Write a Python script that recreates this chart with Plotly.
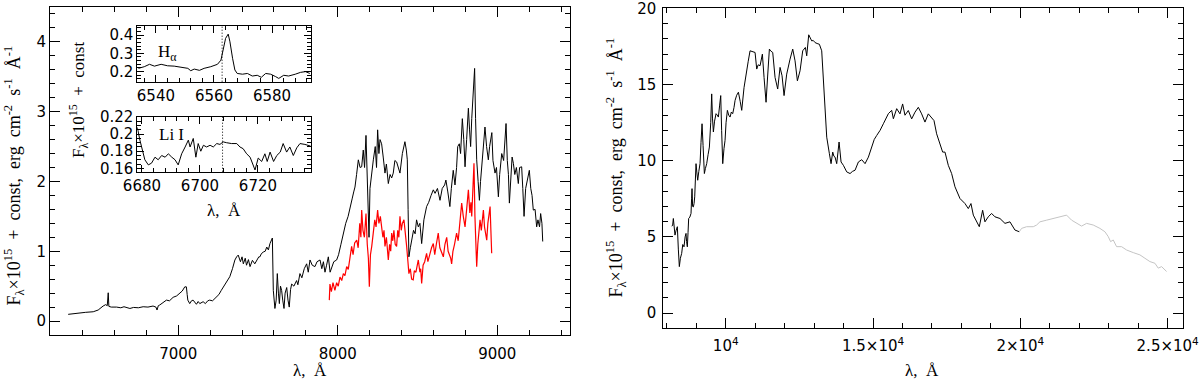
import plotly.graph_objects as go

# ---- main optical spectrum (left panel), black ----
opt_wl = [6310, 6340, 6384, 6420, 6467, 6498, 6529, 6545, 6555, 6561, 6565, 6580, 6613, 6640, 6660,
          6697, 6720, 6750, 6780, 6810, 6842, 6860, 6867, 6875, 6884, 6905, 6926, 6945, 6968, 6990,
          7010, 7025, 7041, 7051, 7056, 7060, 7072, 7083, 7093, 7104, 7114, 7125, 7135, 7156, 7170,
          7185, 7197, 7215, 7239, 7255, 7270, 7290, 7323, 7340, 7355, 7366, 7376, 7390, 7400, 7408,
          7420, 7428, 7440, 7450, 7465, 7480, 7491, 7505, 7512, 7520, 7533, 7545, 7555, 7565, 7575,
          7585, 7590, 7596, 7606, 7614, 7621, 7628, 7634, 7641, 7648, 7655, 7663, 7670, 7680, 7688,
          7696, 7704, 7711, 7725, 7742, 7750, 7763, 7775, 7790, 7805, 7815, 7826, 7840, 7857, 7870,
          7889, 7900, 7910, 7920, 7930, 7941, 7952, 7962, 7975, 7993, 8005, 8020, 8035, 8050, 8065,
          8077, 8090, 8100, 8108, 8118, 8129, 8140, 8150, 8160, 8168, 8177, 8185, 8192, 8196, 8202,
          8210, 8223, 8235, 8243, 8250, 8258, 8265, 8275, 8285, 8296, 8305, 8317, 8328, 8338, 8348,
          8358, 8369, 8380, 8390, 8405, 8415, 8421, 8430, 8436, 8441, 8446, 8455, 8463, 8475, 8485,
          8494, 8505, 8515, 8526, 8540, 8557, 8570, 8585, 8599, 8610, 8625, 8641, 8655, 8670, 8678,
          8690, 8703, 8712, 8724, 8735, 8745, 8752, 8762, 8770, 8781, 8790, 8798, 8808, 8819, 8826,
          8833, 8840, 8846, 8852, 8858, 8864, 8871, 8880, 8888, 8895, 8902, 8912, 8923, 8933, 8944,
          8952, 8959, 8966, 8973, 8986, 8995, 9007, 9015, 9028, 9040, 9048, 9055, 9063, 9070, 9076,
          9085, 9093, 9101, 9110, 9120, 9132, 9140, 9153, 9160, 9168, 9178, 9188, 9201, 9210, 9218,
          9226, 9237, 9247, 9255, 9265, 9272, 9280, 9285]
opt_flux = [0.096, 0.105, 0.12, 0.125, 0.133, 0.158, 0.215, 0.235, 0.22, 0.405, 0.21, 0.20, 0.20, 0.19, 0.205,
            0.18, 0.195, 0.19, 0.205, 0.20, 0.215, 0.20, 0.158, 0.22, 0.23, 0.26, 0.30, 0.29, 0.34, 0.36,
            0.405, 0.43, 0.49, 0.49, 0.38, 0.30, 0.25, 0.29, 0.30, 0.26, 0.24, 0.28, 0.25, 0.277, 0.25,
            0.29, 0.30, 0.29, 0.34, 0.38, 0.44, 0.52, 0.635, 0.75, 0.874, 0.92, 0.945, 0.85, 0.92, 0.82,
            0.90, 0.80, 0.88, 0.78, 0.87, 0.82, 0.875, 0.92, 0.92, 0.96, 0.99, 1.0, 1.06, 1.02, 1.11,
            1.16, 1.19, 0.44, 0.18, 0.30, 0.68, 0.40, 0.25, 0.50, 0.44, 0.30, 0.18, 0.40, 0.48, 0.30,
            0.20, 0.45, 0.53, 0.50, 0.58, 0.52, 0.68, 0.62, 0.75, 0.82, 0.70, 0.875, 0.80, 0.78, 0.85,
            0.875, 0.75, 0.85, 0.70, 0.80, 0.92, 0.70, 0.78, 0.85, 0.875, 0.95, 1.10, 1.26, 1.40, 1.50,
            1.64, 1.75, 1.85, 1.92, 2.10, 2.31, 2.20, 2.21, 2.45, 2.20, 2.66, 2.10, 1.60, 1.20, 1.90,
            2.10, 2.31, 2.50, 2.20, 2.74, 2.40, 2.60, 2.54, 2.35, 2.12, 2.25, 1.97, 2.10, 2.05, 2.12,
            2.30, 2.28, 2.20, 2.12, 2.40, 2.50, 2.57, 2.45, 2.31, 1.60, 0.92, 1.05, 1.16, 1.30, 1.25,
            1.45, 1.35, 1.40, 1.11, 1.45, 1.64, 1.70, 1.80, 1.88, 1.83, 1.90, 1.73, 1.90, 1.95, 2.02,
            1.85, 1.64, 1.90, 2.16, 1.95, 2.20, 2.50, 2.54, 2.40, 2.90, 2.60, 2.21, 2.60, 3.05, 2.75,
            2.50, 2.90, 3.21, 3.30, 3.62, 2.90, 2.31, 2.00, 1.73, 2.00, 2.21, 2.50, 2.78, 2.50, 2.31,
            2.50, 2.64, 2.70, 2.30, 2.12, 2.20, 1.78, 2.10, 2.40, 2.30, 2.60, 2.83, 2.30, 2.10, 1.69,
            2.00, 2.35, 2.26, 2.10, 2.20, 1.97, 2.20, 2.21, 1.90, 1.50, 1.90, 2.00, 2.16, 1.90, 1.80,
            1.59, 1.60, 1.35, 1.45, 1.35, 1.54, 1.40, 1.14]

# ---- second optical spectrum (red) ----
red_wl = [7947, 7951, 7960, 7970, 7982, 7993, 8003, 8014, 8025, 8035, 8045, 8056, 8066, 8077, 8087,
          8096, 8106, 8119, 8128, 8138, 8145, 8150, 8158, 8167, 8172, 8177, 8185, 8192, 8198, 8205,
          8213, 8222, 8232, 8240, 8250, 8258, 8267, 8275, 8283, 8290, 8296, 8305, 8310, 8317, 8325,
          8332, 8338, 8345, 8352, 8360, 8369, 8376, 8383, 8390, 8398, 8405, 8415, 8425, 8432, 8440,
          8446, 8455, 8463, 8473, 8480, 8490, 8498, 8505, 8515, 8520, 8526, 8535, 8545, 8557, 8565,
          8575, 8588, 8599, 8608, 8618, 8630, 8640, 8650, 8662, 8672, 8683, 8692, 8700, 8708, 8714,
          8722, 8732, 8745, 8755, 8765, 8777, 8787, 8798, 8808, 8819, 8828, 8835, 8840, 8848, 8854,
          8860, 8866, 8871, 8878, 8885, 8892, 8900, 8906, 8913, 8920, 8927, 8934, 8941, 8948, 8955,
          8960, 8965]
red_flux = [0.30, 0.53, 0.42, 0.55, 0.44, 0.55, 0.50, 0.63, 0.58, 0.68, 0.65, 0.78, 0.74, 0.90, 1.07,
            0.95, 1.12, 1.16, 1.05, 1.40, 1.20, 1.59, 1.30, 1.20, 1.45, 1.54, 1.10, 0.90, 0.49, 0.95,
            1.07, 1.30, 1.45, 1.35, 1.59, 1.40, 1.50, 1.35, 1.20, 1.30, 1.07, 1.20, 1.00, 0.875, 1.10,
            1.00, 1.26, 1.15, 1.30, 1.10, 1.07, 1.30, 1.20, 1.50, 1.30, 1.40, 1.45, 1.25, 1.07, 0.85,
            0.68, 0.75, 0.60, 0.59, 0.72, 0.70, 0.82, 0.875, 0.70, 0.75, 0.54, 0.80, 0.85, 0.97, 0.85,
            0.95, 1.05, 1.11, 0.95, 1.10, 1.26, 1.05, 1.00, 0.92, 1.10, 1.20, 1.00, 0.95, 0.90, 0.82,
            1.00, 1.10, 1.26, 1.15, 1.40, 1.69, 1.50, 1.35, 1.60, 1.88, 1.55, 1.70, 1.50, 1.90, 2.26,
            1.50, 1.10, 0.78, 1.10, 1.30, 1.45, 1.30, 1.50, 1.59, 1.35, 1.25, 1.16, 1.40, 1.50, 1.64,
            1.30, 0.97]

# ---- H-alpha inset ----
ha_wl = [6534, 6536, 6537.8, 6539.5, 6541.8, 6544, 6546.3, 6548.6, 6551, 6552, 6553.2, 6555, 6556.6,
         6558.9, 6561.2, 6562.4, 6563.3, 6564, 6564.9, 6565.5, 6566.4, 6567.2, 6568, 6569.8, 6571.5,
         6573.2, 6574.9, 6576.3, 6577.8, 6579.5, 6581.2, 6582.3, 6584, 6585.7, 6588, 6589.8, 6591.5, 6593]
ha_flux = [0.218, 0.227, 0.24, 0.23, 0.24, 0.232, 0.23, 0.223, 0.218, 0.205, 0.214, 0.207, 0.218,
           0.227, 0.24, 0.263, 0.327, 0.382, 0.405, 0.363, 0.273, 0.209, 0.19, 0.186, 0.19,
           0.176, 0.18, 0.169, 0.19, 0.186, 0.173, 0.163, 0.18, 0.176, 0.186, 0.196, 0.2, 0.19]

# ---- Li I inset ----
li_wl = [6678.4, 6679.3, 6681, 6682.2, 6683.3, 6684.5, 6685.6, 6686.8, 6688, 6689.1, 6690.3, 6691.4,
         6692.5, 6693.7, 6694.9, 6696, 6696.6, 6697.7, 6698.6, 6699.4, 6700.3, 6701.2, 6702.3, 6703.5,
         6704.6, 6705.8, 6706.9, 6708, 6709.2, 6710.9, 6712.7, 6713.8, 6714.9, 6716.1, 6717.3, 6718.2,
         6719, 6720.1, 6721.3, 6722.4, 6723.2, 6724.2, 6725.4, 6726.5, 6727.7, 6728.7, 6729.9, 6731,
         6732.2, 6733.4, 6734.5, 6736.2, 6738.2]
li_flux = [0.208, 0.193, 0.17, 0.164, 0.166, 0.173, 0.17, 0.175, 0.173, 0.177, 0.173, 0.17,
           0.164, 0.177, 0.185, 0.193, 0.185, 0.195, 0.173, 0.189, 0.18, 0.187, 0.185, 0.187,
           0.185, 0.189, 0.188, 0.191, 0.19, 0.189, 0.189, 0.185, 0.183, 0.177, 0.173, 0.166,
           0.158, 0.172, 0.168, 0.177, 0.168, 0.179, 0.168, 0.175, 0.179, 0.189, 0.179, 0.185,
           0.175, 0.184, 0.189, 0.188, 0.186]

# ---- near-IR spectrum (right panel), black part ----
ir_wl = [8170, 8198, 8221, 8250, 8277, 8310, 8357, 8390, 8424, 8460, 8504, 8540, 8583, 8620, 8651,
         8670, 8696, 8720, 8741, 8780, 8821, 8840, 8855, 8875, 8900, 8925, 8946, 8970, 8991, 9020,
         9048, 9085, 9127, 9160, 9195, 9230, 9274, 9310, 9353, 9400, 9444, 9490, 9523, 9550, 9580,
         9620, 9670, 9710, 9750, 9790, 9829, 9860, 9897, 9940, 9976, 10010, 10055, 10100, 10146, 10190,
         10236, 10280, 10316, 10370, 10429, 10490, 10542, 10620, 10689, 10760, 10825, 10995, 11051, 11100, 11164,
         11243, 11300, 11368, 11420, 11481, 11530, 11594, 11673, 11763, 11843, 11911, 11979, 12069, 12182, 12273,
         12352, 12431, 12522, 12612, 12703, 12748, 12816, 12870, 12918, 12970, 13031, 13100, 13178, 13257, 13314,
         13371, 13427, 13518, 13574, 13631, 13670, 13710, 13766, 13846, 13914, 13993, 14106, 14219, 14300, 14389,
         14502, 14615, 14728, 14841, 14954, 15040, 15123, 15236, 15350, 15430, 15519, 15632, 15689, 15802, 15914,
         16004, 16083, 16196, 16310, 16423, 16536, 16649, 16762, 16875, 16988, 17068, 17158, 17271, 17362, 17441,
         17554, 17667, 17780, 17950, 18120, 18233, 18323, 18403, 18493, 18606, 18719, 18798, 18911, 19024, 19137,
         19307, 19477, 19646, 19816, 19963]
ir_flux = [5.7, 5.78, 6.21, 5.5, 5.12, 5.4, 5.67, 4.2, 3.05, 3.6, 3.92, 4.5, 4.35, 5.0, 5.23,
           4.7, 4.35, 5.3, 6.21, 6.3, 6.54, 7.5, 8.17, 7.0, 6.97, 7.2, 7.63, 8.8, 9.81, 9.2,
           8.72, 9.3, 9.81, 11.2, 12.43, 11.0, 9.16, 9.5, 9.81, 10.4, 10.9, 12.5, 14.39, 12.8, 11.89,
           12.6, 13.09, 13.0, 12.87, 13.6, 14.28, 12.0, 9.81, 10.8, 11.34, 12.5, 13.31, 13.0, 12.87, 13.2,
           13.09, 13.5, 13.96, 14.3, 14.5, 13.9, 13.31, 14.8, 15.8, 16.5, 17.22, 17.11, 16.02, 16.3, 16.24,
           17.0, 15.47, 13.84, 15.5, 17.33, 17.2, 17.11, 15.47, 14.71, 16.13, 15.58, 14.28, 15.69, 16.67, 17.33,
           16.56, 15.25, 15.91, 17.22, 17.44, 16.89, 18.27, 18.0, 17.87, 17.9, 17.76, 17.7, 17.65, 17.22, 15.47,
           13.31, 11.55, 10.46, 9.81, 10.57, 10.3, 10.24, 9.81, 11.23, 9.92, 9.7, 9.27, 9.16, 9.3, 9.38,
           9.92, 10.07, 9.81, 10.24, 10.9, 11.4, 11.66, 11.99, 12.43, 12.8, 13.09, 13.31, 12.76, 13.42, 13.08,
           13.73, 12.99, 13.3, 12.75, 13.19, 13.51, 13.08, 12.54, 13.08, 12.86, 12.64, 11.77, 11.12, 10.57, 10.57,
           9.7, 9.16, 8.29, 7.52, 7.19, 6.86, 7.19, 6.43, 6.1, 5.67, 6.75, 5.99, 6.32, 6.54, 6.32,
           6.21, 5.89, 5.99, 5.45, 5.34]

# ---- near-IR, grey part ----
k_wl = [19963, 20042, 20212, 20438, 20551, 20664, 20890, 21117, 21343, 21569, 21739, 21908, 22078, 22248,
        22474, 22700, 22870, 22983, 23062, 23153, 23266, 23435, 23605, 23831, 24058, 24227, 24397, 24567,
        24680, 24793, 24963]
k_flux = [5.34, 5.56, 5.67, 5.67, 5.78, 5.99, 6.1, 6.21, 6.28, 6.43, 6.1, 5.89, 5.71, 5.89,
          5.78, 5.56, 5.34, 5.02, 4.69, 4.8, 4.36, 4.36, 4.14, 3.97, 3.82, 3.6, 3.38, 3.27,
          2.95, 3.05, 2.73]

W, H = 1200, 382
NUM = "DejaVu Sans"
TXT = "Liberation Serif"
nb = "\u00a0"


def px(x):
    return x / W


def py(y):
    return (H - y) / H


def axis_style(dom, rng, major, minor, tlen=10, mlen=5, **kw):
    d = dict(domain=dom, range=rng, showline=True, linecolor="black", linewidth=1, mirror="allticks",
             ticks="inside", ticklen=tlen, tickcolor="black", tickwidth=1, showgrid=False, zeroline=False,
             automargin=False, ticklabeloverflow="allow",
             tickfont=dict(family=NUM, size=15, color="black"),
             minor=dict(ticks="inside", ticklen=mlen, tickcolor="black", tickwidth=1, dtick=minor,
                        tick0=0, showgrid=False))
    if major is not None:
        d.update(dtick=major, tick0=0)
    d.update(kw)
    return d


fig = go.Figure()
fig.add_trace(go.Scatter(x=opt_wl, y=opt_flux, mode="lines", line=dict(color="black", width=1),
                         xaxis="x", yaxis="y"))
fig.add_trace(go.Scatter(x=red_wl, y=red_flux, mode="lines", line=dict(color="#ff0000", width=1.2),
                         xaxis="x", yaxis="y"))
fig.add_trace(go.Scatter(x=ir_wl, y=ir_flux, mode="lines", line=dict(color="black", width=1),
                         xaxis="x2", yaxis="y2"))
fig.add_trace(go.Scatter(x=k_wl, y=k_flux, mode="lines", line=dict(color="#c4c4c4", width=1),
                         xaxis="x2", yaxis="y2"))
fig.add_trace(go.Scatter(x=ha_wl, y=ha_flux, mode="lines", line=dict(color="black", width=1),
                         xaxis="x3", yaxis="y3"))
fig.add_trace(go.Scatter(x=li_wl, y=li_flux, mode="lines", line=dict(color="black", width=1),
                         xaxis="x4", yaxis="y4"))

fig.update_layout(
    width=W, height=H, margin=dict(l=0, r=0, t=0, b=0, autoexpand=False),
    paper_bgcolor="white", plot_bgcolor="rgba(0,0,0,0)", showlegend=False,
    xaxis=axis_style([px(50), px(570)], [6196, 9456], 1000, 200, anchor="y", ticklabelstandoff=5),
    yaxis=axis_style([py(335), py(7)], [-0.2, 4.5], 1, 0.2, anchor="x"),
    xaxis2=axis_style([px(663.3), px(1182.7)], [7880, 25510], None, 1000, anchor="y2", ticklabelstandoff=4,
                      tickmode="array", tickvals=[10000, 15000, 20000, 25000],
                      ticktext=["10<sup>4</sup>", "1.5×10<sup>4</sup>", "2×10<sup>4</sup>", "2.5×10<sup>4</sup>"]),
    yaxis2=axis_style([py(328.3), py(8)], [-1, 20.03], 5, 1, anchor="x2", ticklabelstandoff=3),
    xaxis3=axis_style([px(137.3), px(310.7)], [6533.6, 6593.3], 20, 4, 7, 4, anchor="y3"),
    yaxis3=axis_style([py(81.7), py(25.7)], [0.145, 0.451], None, 0.02, 7, 4, anchor="x3",
                      tickmode="array", tickvals=[0.2, 0.3, 0.4], ticktext=["0.2", "0.3", "0.4"]),
    xaxis4=axis_style([px(137.3), px(310.7)], [6678.4, 6738.2], 20, 4, 7, 4, anchor="y4"),
    yaxis4=axis_style([py(171.7), py(116.7)], [0.156, 0.2205], None, 0.005, 7, 4, anchor="x4",
                      tickmode="array", tickvals=[0.16, 0.18, 0.2, 0.22],
                      ticktext=["0.16", "0.18", "0.2", "0.22"]),
)

# rest wavelengths of H-alpha and Li I
fig.add_shape(type="line", xref="x3", yref="y3 domain", x0=6562.8, x1=6562.8, y0=0, y1=1,
              line=dict(color="black", width=1, dash="1px,2px"))
fig.add_shape(type="line", xref="x4", yref="y4 domain", x0=6707.8, x1=6707.8, y0=0, y1=1,
              line=dict(color="black", width=1, dash="1px,2px"))

flux_label = ("F<sub>λ</sub>×10<sup>15</sup>" + nb * 2 + "+" + nb * 2 + "const," + nb * 2 + "erg" + nb * 2
              + "cm<sup>-2</sup>" + nb * 2 + "s<sup>-1</sup>" + nb * 2 + "Å<sup>-1</sup>")
lam = "λ," + nb * 2 + "Å"


def note(text, x, y, size=17, angle=0):
    fig.add_annotation(text=text, xref="paper", yref="paper", x=px(x), y=py(y), showarrow=False,
                       xanchor="center", yanchor="middle", textangle=angle,
                       font=dict(family=TXT, size=size, color="black"))


note(flux_label, 14, 175.5, size=18, angle=-90)
note(flux_label, 616, 167.5, size=18, angle=-90)
note(lam, 310, 370)
note(lam, 922, 370)
note("F<sub>λ</sub>×10<sup>15</sup>" + nb * 2 + "+" + nb * 2 + "const", 78, 100, angle=-90)
note(lam, 223.5, 211)
note("H<sub>α</sub>", 167, 53)
note("Li I", 171.5, 135)

# the page body has a default 8px margin; drop it so the figure sits at the window origin
fig.write_html("out.html", config={"displayModeBar": False},
               post_script="document.body.style.margin='0px';")
